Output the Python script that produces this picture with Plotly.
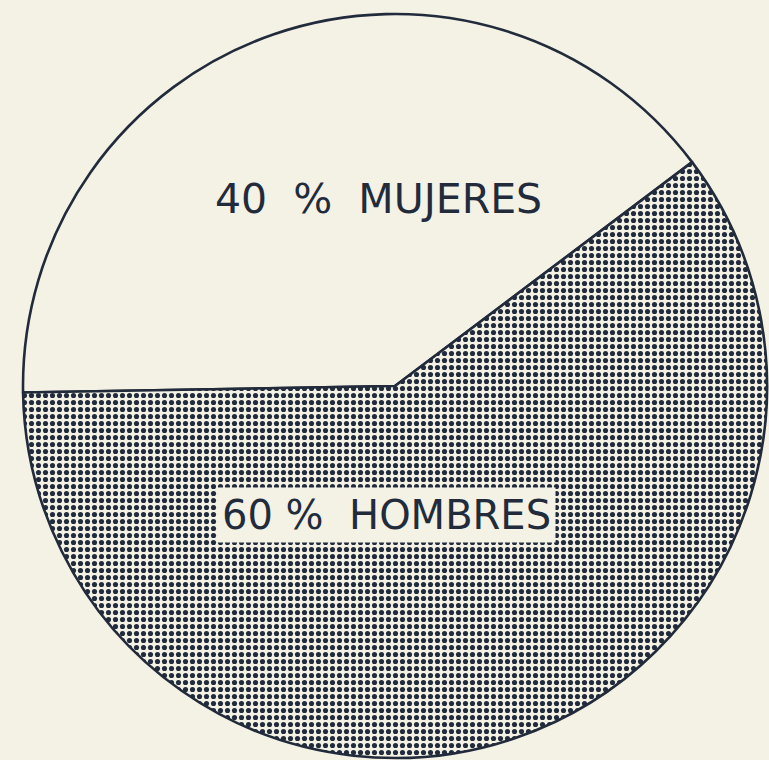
import plotly.graph_objects as go

labels = ["MUJERES", "HOMBRES"]
values = [40, 60]
label_texts = ["40\u00a0\u00a0%\u00a0\u00a0MUJERES", "60 %\u00a0\u00a0HOMBRES"]

PAPER = "#f4f1e5"
INK = "#222b3b"

fig = go.Figure(go.Pie(
    labels=labels,
    values=values,
    sort=False,
    direction="clockwise",
    rotation=269,
    textinfo="none",
    hoverinfo="label+percent",
    marker=dict(
        colors=[PAPER, PAPER],
        line=dict(color=INK, width=2.6),
        pattern=dict(
            shape=["", "."],
            fgcolor=INK,
            bgcolor=PAPER,
            size=7,
            solidity=0.42,
            fillmode="replace",
        ),
    ),
    showlegend=False,
))

fig.add_annotation(
    x=0.478, y=0.752, xref="paper", yref="paper",
    xanchor="center", yanchor="middle",
    text=label_texts[0], showarrow=False,
    font=dict(family="DejaVu Sans", size=41, color=INK),
)
fig.add_annotation(
    x=0.489, y=0.327, xref="paper", yref="paper",
    xanchor="center", yanchor="middle",
    text=label_texts[1], showarrow=False,
    font=dict(family="DejaVu Sans", size=40, color=INK),
    bgcolor=PAPER, borderpad=4,
)

fig.update_layout(
    width=769, height=760,
    margin=dict(l=22, r=1, t=14, b=2),
    paper_bgcolor=PAPER,
    plot_bgcolor=PAPER,
)

fig.write_html(
    "out.html",
    config={"displayModeBar": False},
    post_script="document.body.style.margin='0';document.body.style.overflow='hidden';document.body.style.background='" + PAPER + "';",
)
